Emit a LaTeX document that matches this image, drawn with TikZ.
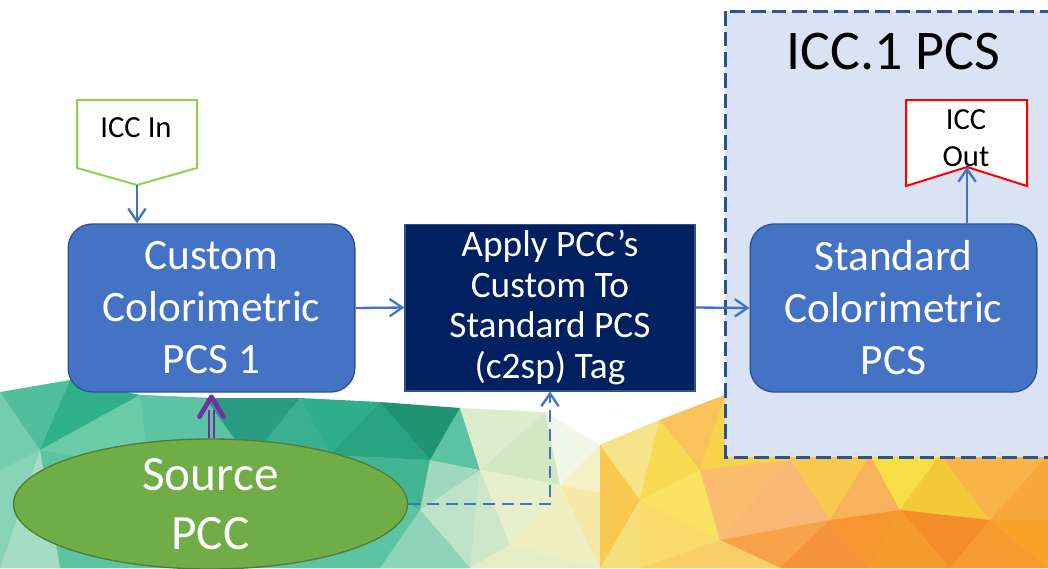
\documentclass[tikz,border=0pt]{standalone}
\usepackage{fontspec}
\setmainfont{Carlito}
\usetikzlibrary{arrows.meta,shapes.geometric}

\definecolor{flowblue}{HTML}{4472C4}
\definecolor{edgeblue}{HTML}{2F528F}
\definecolor{navy}{HTML}{002060}
\definecolor{pcsfill}{HTML}{DAE3F3}
\definecolor{srcgreen}{HTML}{70AD47}
\definecolor{srcedge}{HTML}{507E32}
\definecolor{ingreen}{HTML}{92D050}
\definecolor{outred}{HTML}{FF0000}
\definecolor{pccpurple}{HTML}{7030A0}

% one flat-shaded triangle of the low-poly backdrop
\newcommand\facet[2]{\definecolor{facetcol}{HTML}{#1}\fill[facetcol] #2 -- cycle;}

\tikzset{
  pcsbox/.style={rectangle, rounded corners=18pt, fill=flowblue, draw=edgeblue,
    line width=1pt, text=white, minimum width=215pt, minimum height=126pt,
    align=center, inner sep=0pt, font=\fontsize{32.5}{39}\selectfont},
  tagbox/.style={rectangle, fill=navy, draw=edgeblue, line width=1pt, text=white,
    minimum width=217.5pt, minimum height=125pt, align=center, inner sep=0pt,
    font=\fontsize{28}{30.5}\selectfont},
  flow/.style={draw=flowblue, line width=1.75pt,
    -{Straight Barb[length=9.5pt,width=13pt]}},
  dashflow/.style={flow, dash pattern=on 9pt off 5pt},
  region/.style={fill=pcsfill, draw=edgeblue, line width=2.25pt,
    dash pattern=on 11pt off 4.5pt},
  labeltext/.style={font=\fontsize{23}{27.75}\selectfont, align=center, inner sep=0pt},
  offpage/.style={fill=white, line width=1.5pt, line join=miter},
}

\begin{document}
\begin{tikzpicture}[x=0.75pt, y=-0.75pt]
\useasboundingbox (0,0) rectangle (1048,568);
\fill[white] (0,0) rectangle (1048,568);

% ---- backdrop: green facets (left) ----
\facet{5CC4A3}{(0,392) -- (140,395) -- (460,408) -- (480,470) -- (470,568) -- (0,568)}
\facet{4FC09B}{(0,392) -- (70,380) -- (40,450)}
\facet{74CDAE}{(0,392) -- (40,450) -- (0,470)}
\facet{2FB088}{(70,380) -- (140,395) -- (40,450)}
\facet{86D3B7}{(0,470) -- (40,450) -- (0,568)}
\facet{A5DCC4}{(40,450) -- (60,568) -- (0,568)}
\facet{6ACBA9}{(40,450) -- (140,395) -- (150,470)}
\facet{5CC4A3}{(140,395) -- (205,398) -- (150,470)}
\facet{2A9C82}{(205,398) -- (300,398) -- (250,460)}
\facet{2EAE8A}{(300,398) -- (380,402) -- (330,455)}
\facet{1F9470}{(380,402) -- (460,408) -- (430,460)}
\facet{3AB090}{(250,460) -- (300,398) -- (330,455)}
\facet{27A37F}{(330,455) -- (380,402) -- (430,460)}
\facet{42B593}{(330,455) -- (430,460) -- (420,510)}
\facet{5BC3A2}{(430,460) -- (460,408) -- (480,470)}
\facet{9FD8BC}{(420,510) -- (430,460) -- (480,470)}
\facet{BFE3C8}{(420,510) -- (480,470) -- (470,568)}
\facet{8FD4B8}{(380,568) -- (420,510) -- (470,568)}

% ---- backdrop: pale facets (middle) ----
\facet{DDEDCB}{(460,408) -- (545,412) -- (480,470)}
\facet{F3F7EA}{(545,412) -- (600,445) -- (560,485)}
\facet{D2E8C2}{(480,470) -- (545,412) -- (560,485)}
\facet{E6F0CC}{(480,470) -- (560,485) -- (510,545)}
\facet{F4F1C6}{(560,485) -- (600,445) -- (640,500)}
\facet{F6E9A8}{(560,485) -- (640,500) -- (600,568)}
\facet{EEF0C2}{(510,545) -- (560,485) -- (600,568)}
\facet{CFE7C9}{(470,568) -- (480,470) -- (510,545)}
\facet{E4EDC5}{(470,568) -- (510,545) -- (600,568)}

% ---- backdrop: yellow and orange facets (right) ----
\facet{F9C850}{(600,445) -- (660,420) -- (725,395) -- (1048,455) -- (1048,568) -- (600,568)}
\facet{F6E38A}{(600,445) -- (660,420) -- (640,500)}
\facet{F9C25A}{(660,420) -- (725,395) -- (700,470)}
\facet{F8DA52}{(660,420) -- (700,470) -- (640,500)}
\facet{F9D24C}{(700,470) -- (725,395) -- (790,460)}
\facet{FAE362}{(640,500) -- (700,470) -- (720,540)}
\facet{FABC6E}{(700,470) -- (790,460) -- (720,540)}
\facet{F9C84E}{(790,460) -- (870,455) -- (830,520)}
\facet{F9B25C}{(870,455) -- (900,510) -- (830,520)}
\facet{F8DD45}{(870,455) -- (940,455) -- (900,510)}
\facet{F3C93A}{(940,455) -- (990,520) -- (900,510)}
\facet{F8B448}{(940,455) -- (1048,455) -- (990,520)}
\facet{F9A63A}{(1048,455) -- (1048,520) -- (990,520)}
\facet{F9B876}{(790,460) -- (830,520) -- (720,540)}
\facet{F9A348}{(720,540) -- (830,520) -- (780,568)}
\facet{F9D065}{(720,540) -- (780,568) -- (640,568)}
\facet{F7962F}{(830,520) -- (900,510) -- (870,568)}
\facet{F6923A}{(830,520) -- (870,568) -- (780,568)}
\facet{F58C2A}{(900,510) -- (990,520) -- (950,568)}
\facet{F69A2E}{(900,510) -- (950,568) -- (870,568)}
\facet{F9A228}{(990,520) -- (1048,520) -- (1048,568)}
\facet{F79A30}{(990,520) -- (1048,568) -- (950,568)}
\facet{F9DC6A}{(640,500) -- (720,540) -- (640,568)}
\facet{F7E07A}{(600,568) -- (640,500) -- (640,568)}

% ---- ICC.1 PCS region ----
\draw[region] (725,11) rectangle (1064,457);
\node[font=\fontsize{42}{50}\selectfont, inner sep=0pt] (title) at (893,52) {ICC.1 PCS};

% ---- processing boxes ----
\node[pcsbox] (custom) at (211.5,308) {Custom\\Colorimetric\\PCS 1};
\node[tagbox] (apply) at (550,307.5) {Apply PCC’s\\Custom To\\Standard PCS\\(c2sp) Tag};
\node[pcsbox] (standard) at (893.5,308) {Standard\\Colorimetric\\PCS};

% ---- source ellipse ----
\node[ellipse, fill=srcgreen, draw=srcedge, line width=1pt, minimum width=295.5pt,
  minimum height=97.5pt, text=white, align=center, inner sep=0pt,
  font=\fontsize{37}{44}\selectfont] (src) at (210.5,504) {Source\\PCC};

% ---- off-page connectors ----
\draw[offpage, draw=ingreen] (77,100) -- (197,100) -- (197,168) -- (137,185) -- (77,168) -- cycle;
\coordinate (intip) at (137,185);
\node[labeltext] (iccin) at (136,128) {ICC In};

\draw[offpage, draw=outred] (906,100) -- (1027,100) -- (1027,186) -- (967,167) -- (906,186) -- cycle;
\coordinate (outnotch) at (967,167);
\node[labeltext] (iccout) at (966,138.5) {ICC\\Out};

% ---- connectors ----
\draw[flow] (intip) -- (intip |- custom.north);
\draw[flow] (custom.east) -- (apply.west);
\draw[flow] (apply.east) -- (standard.west);
\draw[flow] (outnotch |- standard.north) -- (outnotch);
\draw[dashflow] (src.east) -| (apply.south);

% double-shafted purple link from the source up into the custom PCS
\coordinate (pbase) at (src.north -| custom.south);
\draw[pccpurple, line width=1.5pt] ([xshift=-2pt]pbase) -- ([xshift=-2pt,yshift=-13pt]custom.south);
\draw[pccpurple, line width=1.5pt] ([xshift=2pt]pbase) -- ([xshift=2pt,yshift=-13pt]custom.south);
\draw[pccpurple, line width=3.5pt, line cap=round, line join=round]
  ([xshift=-9pt,yshift=-18pt]custom.south) -- ([yshift=-3pt]custom.south)
  -- ([xshift=9pt,yshift=-18pt]custom.south);
\end{tikzpicture}
\end{document}
